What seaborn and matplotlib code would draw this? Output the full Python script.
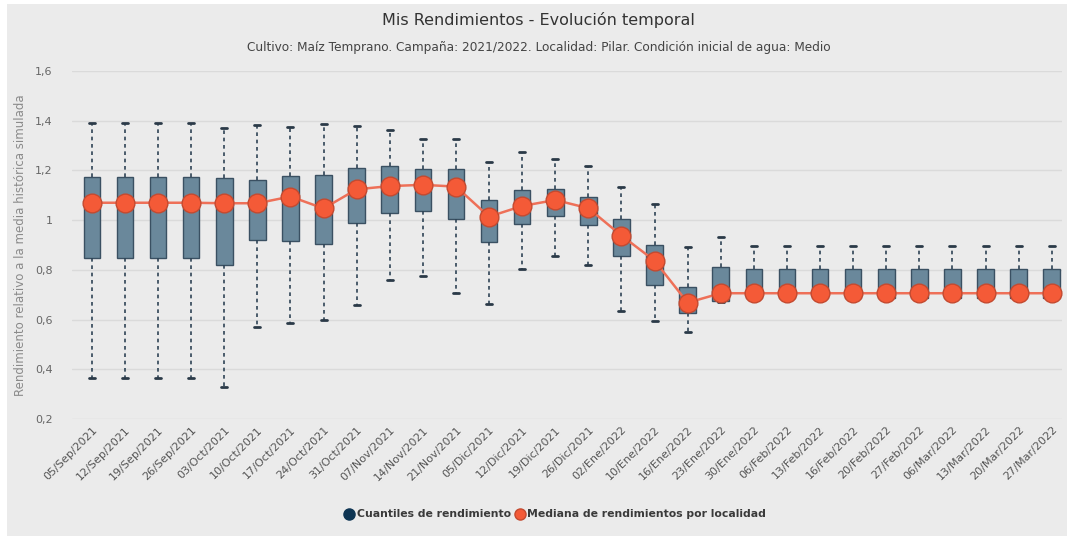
import matplotlib
matplotlib.use("Agg")
import matplotlib.pyplot as plt
import pandas as pd
import seaborn as sns
from matplotlib.lines import Line2D
from matplotlib.patches import Rectangle

fechas = [
    "05/Sep/2021", "12/Sep/2021", "19/Sep/2021", "26/Sep/2021", "03/Oct/2021",
    "10/Oct/2021", "17/Oct/2021", "24/Oct/2021", "31/Oct/2021", "07/Nov/2021",
    "14/Nov/2021", "21/Nov/2021", "05/Dic/2021", "12/Dic/2021", "19/Dic/2021",
    "26/Dic/2021", "02/Ene/2022", "10/Ene/2022", "16/Ene/2022", "23/Ene/2022",
    "30/Ene/2022", "06/Feb/2022", "13/Feb/2022", "16/Feb/2022", "20/Feb/2022",
    "27/Feb/2022", "06/Mar/2022", "13/Mar/2022", "20/Mar/2022", "27/Mar/2022",
]
minimo = [0.365, 0.365, 0.365, 0.365, 0.330, 0.571, 0.588, 0.598, 0.659, 0.759,
          0.777, 0.708, 0.663, 0.804, 0.857, 0.820, 0.636, 0.596, 0.549, 0.672,
          0.686, 0.686, 0.686, 0.686, 0.686, 0.686, 0.686, 0.686, 0.686, 0.686]
q1 = [0.848, 0.848, 0.848, 0.848, 0.818, 0.922, 0.918, 0.906, 0.990, 1.028,
      1.036, 1.004, 0.911, 0.985, 1.017, 0.981, 0.857, 0.739, 0.625, 0.675,
      0.688, 0.688, 0.688, 0.688, 0.688, 0.688, 0.688, 0.688, 0.688, 0.688]
mediana = [1.070, 1.070, 1.070, 1.070, 1.068, 1.068, 1.095, 1.047, 1.124, 1.137,
           1.142, 1.135, 1.014, 1.057, 1.081, 1.048, 0.938, 0.837, 0.668, 0.706,
           0.706, 0.706, 0.706, 0.706, 0.706, 0.706, 0.706, 0.706, 0.706, 0.706]
q3 = [1.174, 1.174, 1.174, 1.174, 1.168, 1.162, 1.178, 1.182, 1.211, 1.216,
      1.206, 1.205, 1.082, 1.122, 1.124, 1.095, 1.005, 0.900, 0.732, 0.813,
      0.804, 0.804, 0.804, 0.804, 0.804, 0.804, 0.804, 0.804, 0.804, 0.804]
maximo = [1.390, 1.390, 1.390, 1.390, 1.370, 1.383, 1.374, 1.387, 1.379, 1.363,
          1.327, 1.327, 1.235, 1.276, 1.245, 1.218, 1.135, 1.065, 0.893, 0.931,
          0.897, 0.897, 0.897, 0.897, 0.897, 0.897, 0.897, 0.897, 0.897, 0.897]

yticks = [0.2, 0.4, 0.6, 0.8, 1.0, 1.2, 1.4, 1.6]
ytick_labels = ["0,2", "0,4", "0,6", "0,8", "1", "1,2", "1,4", "1,6"]

# five values per date -> quartiles of the box are exactly q1/mediana/q3
rows = []
for i, f in enumerate(fechas):
    for v in (minimo[i], q1[i], mediana[i], q3[i], maximo[i]):
        rows.append({"fecha": f, "rend": v})
df = pd.DataFrame(rows)
df_med = pd.DataFrame({"fecha": fechas, "rend": mediana})

bg = "#ebebeb"
box_face = "#6a889b"
box_edge = "#3a5062"
orange = "#f45a37"

sns.set_theme(style="white")
plt.rcParams["font.family"] = ["DejaVu Sans"]

fig = plt.figure(figsize=(10.67, 5.37), dpi=100)
fig.patch.set_facecolor("white")
fig.patches.append(Rectangle((7 / 1067, 0.002), 1 - 7 / 1067, 1 - 0.002 - 4 / 537,
                             transform=fig.transFigure, facecolor=bg,
                             edgecolor="none", zorder=-10))
ax = fig.add_axes([0.0675, 0.2197, 0.9275, 0.6481])
ax.set_facecolor(bg)

sns.boxplot(data=df, x="fecha", y="rend", order=fechas, whis=float("inf"),
            width=0.5, color=box_face, saturation=1, linecolor=box_edge,
            linewidth=1, ax=ax, capwidths=0.18,
            boxprops={"facecolor": box_face, "edgecolor": box_edge},
            whiskerprops={"color": "#2f4456", "linestyle": (0, (2.2, 2.2)),
                          "linewidth": 1.2},
            capprops={"color": "#2b3a48", "linewidth": 2},
            medianprops={"visible": False})

sns.pointplot(data=df_med, x="fecha", y="rend", order=fechas, color=orange,
              errorbar=None, markers="o", linestyles="-", ax=ax,
              markersize=13.5, markeredgecolor="#c44a30", markeredgewidth=1,
              linewidth=1.8)
for ln in ax.lines[-1:]:
    ln.set_color("#ee7058")
    ln.set_markerfacecolor(orange)
    ln.set_markeredgecolor("#c44a30")

ax.set_xlim(-0.6, 29.3)
ax.set_ylim(0.2, 1.6)
ax.set_yticks(yticks)
ax.set_yticklabels(ytick_labels, fontsize=8, color="#666666")
ax.yaxis.grid(True, color="#dadada", linewidth=1)
ax.set_axisbelow(True)
ax.set_xlabel("")
ax.set_ylabel("Rendimiento relativo a la media histórica simulada",
              fontsize=8.5, color="#8a8a8a", labelpad=6)
ax.tick_params(axis="both", length=0)
ax.tick_params(axis="y", pad=14)
ax.tick_params(axis="x", pad=4)
plt.setp(ax.get_xticklabels(), rotation=45, ha="right", rotation_mode="anchor",
         fontsize=8, color="#555555")
for s in ax.spines.values():
    s.set_visible(False)

fig.text(0.505, 0.963, "Mis Rendimientos - Evolución temporal",
         ha="center", va="center", fontsize=11.5, color="#333333")
fig.text(0.505, 0.912,
         "Cultivo: Maíz Temprano. Campaña: 2021/2022. Localidad: Pilar. "
         "Condición inicial de agua: Medio",
         ha="center", va="center", fontsize=8.7, color="#444444")

handles = [
    Line2D([], [], marker="o", linestyle="none", markersize=8,
           markerfacecolor="#0e3553", markeredgecolor="#0e3553"),
    Line2D([], [], marker="o", linestyle="none", markersize=8,
           markerfacecolor=orange, markeredgecolor="#c44a30"),
]
leg = fig.legend(handles, ["Cuantiles de rendimiento",
                           "Mediana de rendimientos por localidad"],
                 loc="center", bbox_to_anchor=(0.52, 0.042), ncol=2,
                 frameon=False, handletextpad=0.2, columnspacing=0.3,
                 handlelength=1.0, prop={"size": 7.8, "weight": "bold"})
for t in leg.get_texts():
    t.set_color("#3a3a3a")

fig.savefig("out.png", dpi=100, facecolor=fig.get_facecolor())
